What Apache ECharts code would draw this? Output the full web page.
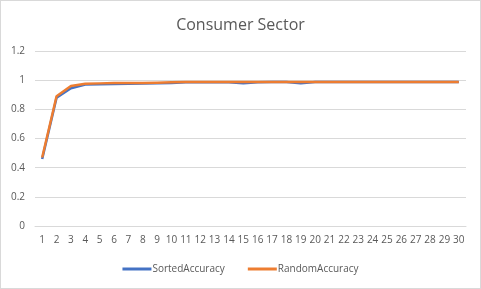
<!DOCTYPE html>
<html><head><meta charset="utf-8">
<script src="https://cdn.jsdelivr.net/npm/echarts@6/dist/echarts.min.js"></script>
<style>html,body{margin:0;padding:0;background:#fff}#c{width:481px;height:289px;border:1px solid #d9d9d9;box-sizing:border-box}</style>
</head><body><div id="c"></div>
<script>
const categories = ["1","2","3","4","5","6","7","8","9","10","11","12","13","14","15","16","17","18","19","20","21","22","23","24","25","26","27","28","29","30"];
const sortedAccuracy = [0.46,0.88,0.945,0.97,0.972,0.973,0.975,0.977,0.978,0.98,0.985,0.986,0.986,0.986,0.978,0.986,0.987,0.987,0.978,0.987,0.988,0.988,0.988,0.988,0.988,0.988,0.988,0.988,0.988,0.988];
const randomAccuracy = [0.47,0.89,0.96,0.975,0.978,0.98,0.98,0.981,0.983,0.985,0.987,0.987,0.987,0.987,0.987,0.988,0.988,0.988,0.988,0.988,0.988,0.988,0.988,0.988,0.988,0.988,0.988,0.988,0.988,0.988];
const yTicks = [0,0.2,0.4,0.6,0.8,1,1.2];
const chart = echarts.init(document.getElementById('c'), null, {renderer:'canvas'});
chart.setOption({
  animation:false,
  title:{text:'Consumer Sector',left:'center',top:11,textStyle:{fontFamily:'Open Sans, Noto Sans, sans-serif',fontSize:16,fontWeight:'normal',color:'#595959'}},
  grid:{left:34,right:14,top:50,bottom:62,containLabel:false},
  legend:{bottom:9,left:'center',itemWidth:29,itemHeight:3,itemGap:23,icon:'rect',textStyle:{fontFamily:'Open Sans, Noto Sans, sans-serif',fontSize:10,color:'#595959',padding:[0,0,0,-4]},
    data:['SortedAccuracy','RandomAccuracy']},
  xAxis:{type:'category',data:categories,boundaryGap:true,axisLine:{lineStyle:{color:'#d9d9d9'}},axisTick:{show:false},
    axisLabel:{interval:0,color:'#595959',fontSize:10,fontFamily:'Open Sans, Noto Sans, sans-serif',margin:9}},
  yAxis:{type:'value',min:0,max:1.2,interval:0.2,splitLine:{lineStyle:{color:'#d9d9d9'}},axisLine:{show:false},axisTick:{show:false},
    axisLabel:{color:'#595959',fontSize:10,fontFamily:'Open Sans, Noto Sans, sans-serif',margin:10,
      formatter:v=>{const t=yTicks.find(x=>Math.abs(x-v)<1e-9);return String(+(t??v).toFixed(1));}}},
  series:[
    {name:'SortedAccuracy',type:'line',data:sortedAccuracy,symbol:'none',lineStyle:{color:'#4472c4',width:2.5},itemStyle:{color:'#4472c4'}},
    {name:'RandomAccuracy',type:'line',data:randomAccuracy,symbol:'none',lineStyle:{color:'#ed7d31',width:2.5},itemStyle:{color:'#ed7d31'}}
  ]
});
</script></body></html>
